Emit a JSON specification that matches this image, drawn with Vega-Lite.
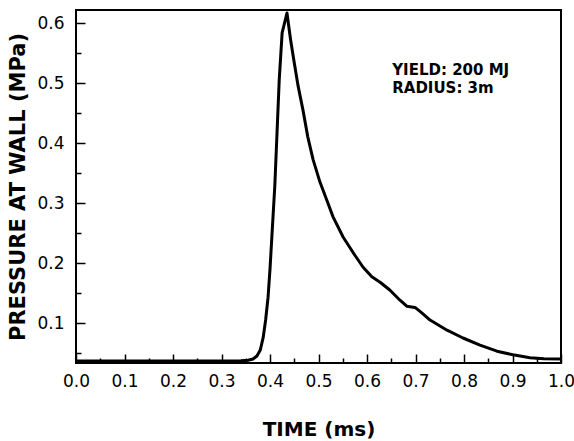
{
  "$schema": "https://vega.github.io/schema/vega-lite/v6.json",
  "width": 485,
  "height": 353,
  "autosize": {"type": "none"},
  "padding": {"left": 76, "top": 10, "right": 13, "bottom": 78},
  "background": "white",
  "config": {
    "view": {"stroke": "black", "strokeWidth": 2},
    "font": "DejaVu Sans"
  },
  "datasets": {
    "curve": [
      {"t": 0.0, "p": 0.0366},
      {"t": 0.05, "p": 0.0366},
      {"t": 0.1, "p": 0.0366},
      {"t": 0.15, "p": 0.0366},
      {"t": 0.2, "p": 0.0366},
      {"t": 0.25, "p": 0.0366},
      {"t": 0.3, "p": 0.0368},
      {"t": 0.34, "p": 0.037},
      {"t": 0.355, "p": 0.038},
      {"t": 0.365, "p": 0.04},
      {"t": 0.373, "p": 0.045},
      {"t": 0.38, "p": 0.055},
      {"t": 0.386, "p": 0.076},
      {"t": 0.391, "p": 0.105},
      {"t": 0.396, "p": 0.143},
      {"t": 0.4, "p": 0.19},
      {"t": 0.41, "p": 0.33},
      {"t": 0.419, "p": 0.505},
      {"t": 0.425, "p": 0.584},
      {"t": 0.435, "p": 0.617},
      {"t": 0.442, "p": 0.575},
      {"t": 0.449, "p": 0.539},
      {"t": 0.458, "p": 0.495},
      {"t": 0.468, "p": 0.455},
      {"t": 0.478, "p": 0.41},
      {"t": 0.489, "p": 0.372},
      {"t": 0.503, "p": 0.335},
      {"t": 0.518, "p": 0.303},
      {"t": 0.53, "p": 0.277},
      {"t": 0.551, "p": 0.243},
      {"t": 0.575, "p": 0.213},
      {"t": 0.592, "p": 0.193},
      {"t": 0.61, "p": 0.177},
      {"t": 0.627, "p": 0.168},
      {"t": 0.647, "p": 0.155},
      {"t": 0.668, "p": 0.138},
      {"t": 0.682, "p": 0.128},
      {"t": 0.699, "p": 0.126},
      {"t": 0.713, "p": 0.117},
      {"t": 0.73, "p": 0.105},
      {"t": 0.765, "p": 0.088},
      {"t": 0.798, "p": 0.075},
      {"t": 0.833, "p": 0.063},
      {"t": 0.868, "p": 0.053},
      {"t": 0.901, "p": 0.047},
      {"t": 0.936, "p": 0.042},
      {"t": 0.965, "p": 0.0405},
      {"t": 1.0, "p": 0.04}
    ],
    "notes": [
      {"t": 0.652, "p": 0.522, "label": "YIELD: 200 MJ"},
      {"t": 0.652, "p": 0.492, "label": "RADIUS: 3m"}
    ]
  },
  "resolve": {"axis": {"x": "independent", "y": "independent"}},
  "layer": [
    {
      "data": {"name": "curve"},
      "mark": {"type": "line", "color": "black", "strokeWidth": 3, "interpolate": "linear", "strokeJoin": "round"},
      "encoding": {
        "x": {
          "field": "t", "type": "quantitative",
          "scale": {"domain": [0, 1], "nice": false, "zero": false},
          "axis": {
            "orient": "bottom",
            "offset": 0,
            "zindex": 1,
            "title": "TIME (ms)",
            "values": [0, 0.1, 0.2, 0.3, 0.4, 0.5, 0.6, 0.7, 0.8, 0.9, 1.0],
            "format": ".1f",
            "domain": false,
            "grid": false,
            "ticks": true,
            "tickColor": "black",
            "tickWidth": 1.5,
            "tickSize": -9,
            "labelPadding": 19,
            "labelFont": "DejaVu Sans",
            "labelFontSize": 17,
            "labelColor": "black",
            "labelFlush": false,
            "labelOverlap": false,
            "titleFont": "DejaVu Sans",
            "titleFontSize": 20,
            "titleFontWeight": "bold",
            "titleColor": "black",
            "titleBaseline": "alphabetic",
            "titleY": 72
          }
        },
        "y": {
          "field": "p", "type": "quantitative",
          "scale": {"domain": [0.0333, 0.622], "nice": false, "zero": false},
          "axis": {
            "orient": "left",
            "offset": 0,
            "zindex": 1,
            "title": "PRESSURE AT WALL (MPa)",
            "values": [0.1, 0.2, 0.3, 0.4, 0.5, 0.6],
            "format": ".1f",
            "domain": false,
            "grid": false,
            "ticks": true,
            "tickColor": "black",
            "tickWidth": 1.5,
            "tickSize": -9,
            "labelPadding": 21,
            "labelFont": "DejaVu Sans",
            "labelFontSize": 17,
            "labelColor": "black",
            "labelFlush": false,
            "labelOverlap": false,
            "titleFont": "DejaVu Sans",
            "titleFontSize": 21,
            "titleFontWeight": "bold",
            "titleColor": "black",
            "titleBaseline": "middle",
            "titleX": -58
          }
        }
      }
    },
    {
      "data": {"name": "notes"},
      "mark": {"type": "text", "align": "left", "baseline": "middle", "font": "DejaVu Sans", "fontSize": 15, "fontWeight": "bold", "color": "black"},
      "encoding": {
        "x": {
          "field": "t", "type": "quantitative",
          "axis": {
            "orient": "bottom",
            "offset": 0,
            "zindex": 1,
            "title": null,
            "values": [0.05, 0.15, 0.25, 0.35, 0.45, 0.55, 0.65, 0.75, 0.85, 0.95],
            "labels": false,
            "domain": false,
            "grid": false,
            "tickColor": "black",
            "tickWidth": 1.5,
            "tickSize": -5
          }
        },
        "y": {
          "field": "p", "type": "quantitative",
          "axis": {
            "orient": "left",
            "offset": 0,
            "zindex": 1,
            "title": null,
            "values": [0.05, 0.15, 0.25, 0.35, 0.45, 0.55],
            "labels": false,
            "domain": false,
            "grid": false,
            "tickColor": "black",
            "tickWidth": 1.5,
            "tickSize": -5
          }
        },
        "text": {"field": "label"}
      }
    }
  ]
}
